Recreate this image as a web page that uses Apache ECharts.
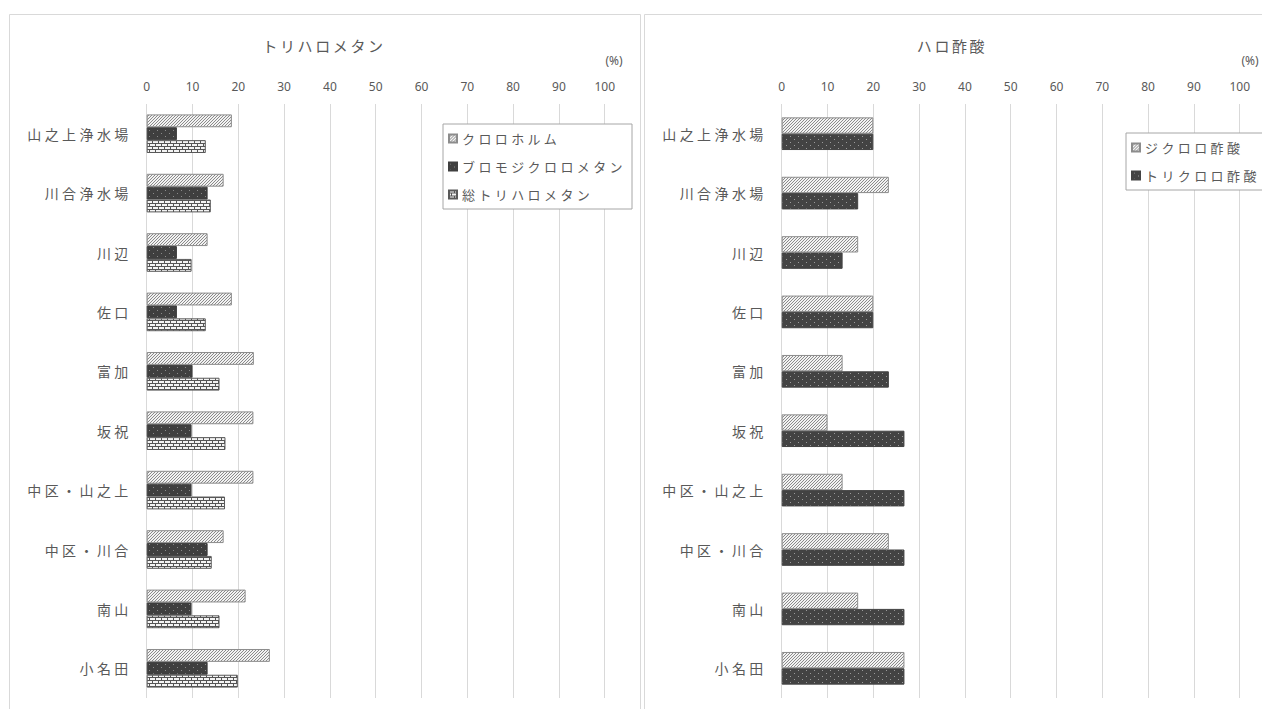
<!DOCTYPE html>
<html>
<head>
<meta charset="utf-8">
<style>
  html, body { margin: 0; padding: 0; background: #fff; }
  #chart { width: 1262px; height: 709px; }
  /* wider tracking for the Japanese labels */
  #chart text[style*="CJK"][style*="15px"] { letter-spacing: 2.6px; }
  #chart text[style*="CJK"][style*="14px"] { letter-spacing: 3.4px; }
  #chart text[style*="CJK"][style*="13px"] { letter-spacing: 3.4px; }
</style>
<script src="https://cdn.jsdelivr.net/npm/echarts@6/dist/echarts.min.js"></script>
</head>
<body>
<div id="chart"></div>
<script>
// 浄水場・給水地点
const sites = ['山之上浄水場', '川合浄水場', '川辺', '佐口', '富加', '坂祝', '中区・山之上', '中区・川合', '南山', '小名田'];

// トリハロメタン (%)
const thmNames = ['クロロホルム', 'ブロモジクロロメタン', '総トリハロメタン'];
const chloroform = [18.6, 16.8, 13.3, 18.6, 23.4, 23.3, 23.3, 16.8, 21.6, 26.9];
const bromodichloromethane = [6.6, 13.3, 6.6, 6.6, 10.0, 9.8, 9.8, 13.3, 9.8, 13.3];
const totalThm = [12.9, 14.0, 9.8, 12.9, 15.9, 17.2, 17.1, 14.2, 15.9, 19.9];

// ハロ酢酸 (%)
const haaNames = ['ジクロロ酢酸', 'トリクロロ酢酸'];
const dichloroacetic = [20.0, 23.4, 16.7, 20.0, 13.3, 10.0, 13.3, 23.4, 16.7, 26.8];
const trichloroacetic = [20.0, 16.7, 13.3, 20.0, 23.4, 26.8, 26.8, 26.8, 26.8, 26.8];

// axis ticks
const xMin = 0, xMax = 100, xStep = 10;

const TEXT = '#595959';
const GRID = '#d9d9d9';
const JP = '"Noto Sans CJK JP", sans-serif';
const NUM = '"Noto Sans", "DejaVu Sans", sans-serif';

// small repeating tiles used as bar fills
function tile(w, h, paint) {
  const c = document.createElement('canvas');
  c.width = w; c.height = h;
  paint(c.getContext('2d'));
  return c;
}
const hatchTile = tile(3, 3, g => {
  g.fillStyle = '#f2f2f2'; g.fillRect(0, 0, 3, 3);
  g.fillStyle = '#8a8a8a';
  g.fillRect(0, 2, 1, 1); g.fillRect(1, 1, 1, 1); g.fillRect(2, 0, 1, 1);
});
const darkDotTile = tile(8, 6, g => {
  g.fillStyle = '#3f3f3f'; g.fillRect(0, 0, 8, 6);
  g.fillStyle = '#8a8a8a';
  g.fillRect(1, 1, 1, 1); g.fillRect(5, 4, 1, 1);
});
const darkDotTile2 = tile(8, 6, g => {
  g.fillStyle = '#434343'; g.fillRect(0, 0, 8, 6);
  g.fillStyle = '#9a9a9a';
  g.fillRect(2, 1, 1, 1); g.fillRect(6, 4, 1, 1);
});
const brickTile = tile(6, 6, g => {
  g.fillStyle = '#555555'; g.fillRect(0, 0, 6, 6);
  g.fillStyle = '#f4f4f4';
  g.fillRect(0, 0, 5, 2);
  g.fillRect(3, 3, 3, 2); g.fillRect(0, 3, 2, 2);
});
const pat = c => ({ image: c, repeat: 'repeat' });

function valueAxis(gridIndex) {
  return {
    type: 'value', gridIndex, position: 'top',
    min: xMin, max: xMax, interval: xStep,
    axisLine: { show: false }, axisTick: { show: false },
    axisLabel: { color: TEXT, fontSize: 12, fontFamily: NUM, margin: 12 },
    splitLine: { show: true, lineStyle: { color: GRID, width: 1 } }
  };
}
function categoryAxis(gridIndex) {
  return {
    type: 'category', gridIndex, data: sites, inverse: true,
    axisLine: { show: false }, axisTick: { show: false },
    axisLabel: { color: TEXT, fontSize: 14, fontFamily: JP, margin: 15 }
  };
}
function legend(names, left, top) {
  return {
    data: names, orient: 'vertical', left, top,
    itemWidth: 8, itemHeight: 8, itemGap: 13, icon: 'rect',
    padding: [7, 40, 7, 5],
    borderColor: '#a6a6a6', borderWidth: 1, backgroundColor: '#ffffff',
    textStyle: { color: TEXT, fontSize: 13, fontFamily: JP, lineHeight: 15 },
    selectedMode: false
  };
}
function bars(name, data, axis, fill, border, catGap) {
  return {
    type: 'bar', name, data,
    xAxisIndex: axis, yAxisIndex: axis,
    barGap: '0%', barCategoryGap: catGap,
    itemStyle: { color: pat(fill), borderColor: border, borderWidth: 1 },
    emphasis: { disabled: true }, animation: false
  };
}

const chart = echarts.init(document.getElementById('chart'), null, { renderer: 'svg' });
chart.setOption({
  backgroundColor: '#ffffff',
  animation: false,
  graphic: [
    { type: 'rect', shape: { x: 9.5, y: 14.5, width: 631, height: 720 }, style: { fill: 'none', stroke: GRID, lineWidth: 1 }, z: -10 },
    { type: 'rect', shape: { x: 644.5, y: 14.5, width: 640, height: 720 }, style: { fill: 'none', stroke: GRID, lineWidth: 1 }, z: -10 },
    { type: 'text', x: 324, y: 45, style: { text: 'トリハロメタン', fill: TEXT, font: '15px ' + JP, textAlign: 'center', textVerticalAlign: 'middle' } },
    { type: 'text', x: 952, y: 45, style: { text: 'ハロ酢酸', fill: TEXT, font: '15px ' + JP, textAlign: 'center', textVerticalAlign: 'middle' } },
    { type: 'text', x: 614, y: 60, style: { text: '(%)', fill: TEXT, font: '12px ' + NUM, textAlign: 'center', textVerticalAlign: 'middle' } },
    { type: 'text', x: 1250, y: 60, style: { text: '(%)', fill: TEXT, font: '12px ' + NUM, textAlign: 'center', textVerticalAlign: 'middle' } }
  ],
  grid: [
    { left: 146.7, top: 104, width: 458, height: 594 },
    { left: 781.7, top: 104, width: 458, height: 594 }
  ],
  xAxis: [valueAxis(0), valueAxis(1)],
  yAxis: [categoryAxis(0), categoryAxis(1)],
  legend: [legend(thmNames, 443, 124), legend(haaNames, 1126, 133)],
  series: [
    bars(thmNames[0], chloroform, 0, hatchTile, '#8c8c8c', '35%'),
    bars(thmNames[1], bromodichloromethane, 0, darkDotTile, '#3f3f3f', '35%'),
    bars(thmNames[2], totalThm, 0, brickTile, '#595959', '35%'),
    bars(haaNames[0], dichloroacetic, 1, hatchTile, '#8c8c8c', '45%'),
    bars(haaNames[1], trichloroacetic, 1, darkDotTile2, '#434343', '45%')
  ]
});
</script>
</body>
</html>
